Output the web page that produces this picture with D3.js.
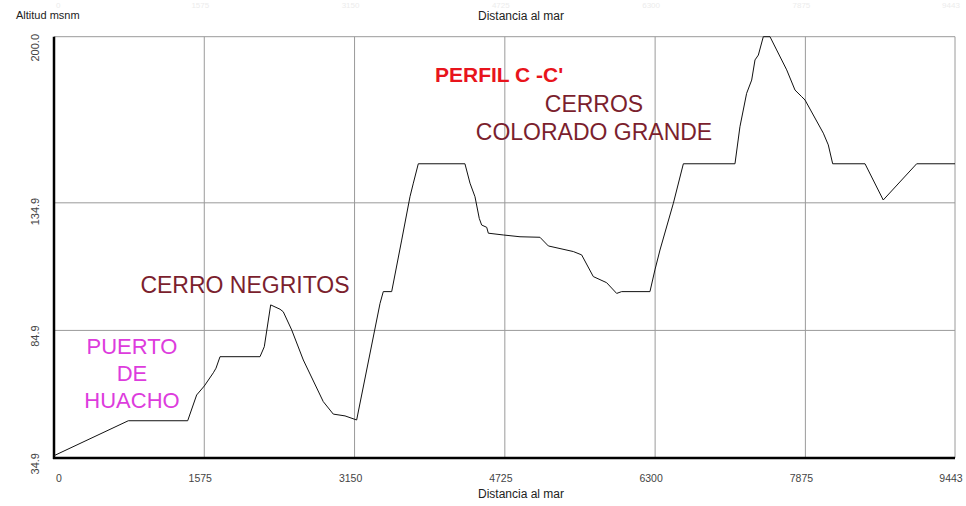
<!DOCTYPE html>
<html>
<head>
<meta charset="utf-8">
<script src="https://cdn.jsdelivr.net/npm/d3@7"></script>
<style>
  body { margin: 0; background: #fff; }
  text { font-family: "Liberation Sans", Arial, sans-serif; }
</style>
</head>
<body>
<script>
// Perfil C - C' : distancia al mar vs altitud
var distancia = [0, 779, 1401, 1495, 1575, 1670, 1698, 1740, 2159, 2204, 2271, 2369, 2403, 2491,
    2613, 2822, 2927, 3050, 3172, 3417, 3451, 3539, 3644, 3731, 3766, 3818, 4307, 4360, 4412,
    4457, 4482, 4535, 4552, 4709, 4884, 5093, 5181, 5443, 5530, 5652, 5792, 5897, 5949, 6246,
    6298, 6351, 6491, 6596, 7137, 7189, 7259, 7312, 7347, 7382, 7434, 7504, 7574, 7679, 7766,
    7836, 7871, 8063, 8115, 8161, 8500, 8691, 9041, 9443];
var altitud = [35.8, 49.5, 49.5, 59.6, 63.1, 68.3, 70.1, 74.6, 74.6, 78.5, 94.9, 93.2, 92.2, 85.1,
    73.3, 57.0, 52.1, 51.4, 49.8, 95.5, 100.1, 100.1, 120.3, 137.3, 142.6, 150.2, 150.2, 142.6, 137.3,
    128.8, 126.2, 125.3, 123.0, 122.3, 121.6, 121.4, 118.0, 115.8, 114.5, 106.0, 103.6, 99.4, 100.1, 100.1,
    108.6, 116.4, 134.7, 150.2, 150.2, 164.7, 177.8, 183.0, 190.9, 192.8, 200.0, 200.0, 194.8, 187.0, 179.1,
    176.5, 175.2, 162.2, 157.6, 150.2, 150.2, 136.0, 150.2, 150.2];

var xTicks = [0, 1575, 3150, 4725, 6300, 7875, 9443];
var xTickLabels = ["0", "1575", "3150", "4725", "6300", "7875", "9443"];
var yTicks = [34.9, 84.9, 134.9, 200.0];
var yTickLabels = ["34.9", "84.9", "134.9", "200.0"];

var w = 966, h = 506;

var svg = d3.select("body").append("svg")
    .attr("width", w)
    .attr("height", h);

var x = d3.scaleLinear().domain([0, 9443]).range([54, 955]);
var y = d3.scaleLinear().domain([34.9, 200]).range([458, 36.7]);

// Grid lines
svg.selectAll(".vgrid")
    .data(xTicks.slice(1))
    .enter().append("line")
    .attr("class", "vgrid")
    .attr("x1", function(d){ return x(d); })
    .attr("x2", function(d){ return x(d); })
    .attr("y1", y(200))
    .attr("y2", y(34.9))
    .style("stroke", "#9a9a9a")
    .style("stroke-width", 1);

svg.selectAll(".hgrid")
    .data(yTicks.slice(1))
    .enter().append("line")
    .attr("class", "hgrid")
    .attr("x1", x(0))
    .attr("x2", x(9443))
    .attr("y1", function(d){ return y(d); })
    .attr("y2", function(d){ return y(d); })
    .style("stroke", "#9a9a9a")
    .style("stroke-width", 1);

// Main axes (left and bottom, thick black)
svg.append("line")
    .attr("x1", x(0)).attr("x2", x(0))
    .attr("y1", y(200)).attr("y2", y(34.9) + 1)
    .style("stroke", "#000").style("stroke-width", 2.5);
svg.append("line")
    .attr("x1", x(0) - 1).attr("x2", x(9443))
    .attr("y1", y(34.9)).attr("y2", y(34.9))
    .style("stroke", "#000").style("stroke-width", 2.5);

// Profile line
var line = d3.line()
    .x(function(d){ return x(d[0]); })
    .y(function(d){ return y(d[1]); });

svg.append("path")
    .datum(d3.zip(distancia, altitud))
    .attr("d", line)
    .style("fill", "none")
    .style("stroke", "#111")
    .style("stroke-width", 1);

// X tick labels (bottom)
svg.selectAll(".xlab")
    .data(xTicks)
    .enter().append("text")
    .attr("class", "xlab")
    .attr("x", function(d, i){ return i === 0 ? x(d) + 2 : x(d) - 4; })
    .attr("y", 482)
    .attr("text-anchor", function(d, i){ return i === 0 ? "start" : "middle"; })
    .style("font-size", "10.5px")
    .style("fill", "#444")
    .text(function(d, i){ return xTickLabels[i]; });

// faint ghost labels along the top edge
svg.selectAll(".xlabTop")
    .data(xTicks)
    .enter().append("text")
    .attr("class", "xlabTop")
    .attr("x", function(d, i){ return i === 0 ? x(d) + 2 : x(d) - 4; })
    .attr("y", 8)
    .attr("text-anchor", function(d, i){ return i === 0 ? "start" : "middle"; })
    .style("font-size", "8px")
    .style("fill", "#ececec")
    .text(function(d, i){ return xTickLabels[i]; });

// Y tick labels, rotated
svg.selectAll(".ylab")
    .data(yTicks)
    .enter().append("text")
    .attr("class", "ylab")
    .attr("transform", function(d){
        var ty = Math.max(y(d) - 5, 34);
        return "translate(39," + ty + ") rotate(-90)";
    })
    .attr("text-anchor", "end")
    .style("font-size", "11px")
    .style("fill", "#444")
    .text(function(d, i){ return yTickLabels[i]; });

// Axis titles
svg.append("text")
    .attr("x", 16).attr("y", 19)
    .style("font-size", "11px")
    .style("fill", "#222")
    .text("Altitud msnm");

svg.append("text")
    .attr("x", 521).attr("y", 20)
    .attr("text-anchor", "middle")
    .style("font-size", "12px")
    .style("fill", "#222")
    .text("Distancia al mar");

svg.append("text")
    .attr("x", 521).attr("y", 498)
    .attr("text-anchor", "middle")
    .style("font-size", "12px")
    .style("fill", "#222")
    .text("Distancia al mar");

// Annotations
svg.append("text")
    .attr("x", 435).attr("y", 82)
    .style("font-size", "21px")
    .style("font-weight", "bold")
    .style("fill", "#e8141c")
    .text("PERFIL C -C'");

var cerros = svg.append("text")
    .attr("text-anchor", "middle")
    .style("font-size", "23px")
    .style("fill", "#7b1f2e");
cerros.append("tspan").attr("x", 594).attr("y", 112).text("CERROS");
cerros.append("tspan").attr("x", 594).attr("y", 140).text("COLORADO GRANDE");

svg.append("text")
    .attr("x", 245).attr("y", 293)
    .attr("text-anchor", "middle")
    .style("font-size", "23px")
    .style("fill", "#7b1f2e")
    .text("CERRO NEGRITOS");

var puerto = svg.append("text")
    .attr("text-anchor", "middle")
    .style("font-size", "22px")
    .style("fill", "#dd3cdd");
puerto.append("tspan").attr("x", 132).attr("y", 354).text("PUERTO");
puerto.append("tspan").attr("x", 132).attr("y", 381).text("DE");
puerto.append("tspan").attr("x", 132).attr("y", 408).text("HUACHO");
</script>
</body>
</html>
